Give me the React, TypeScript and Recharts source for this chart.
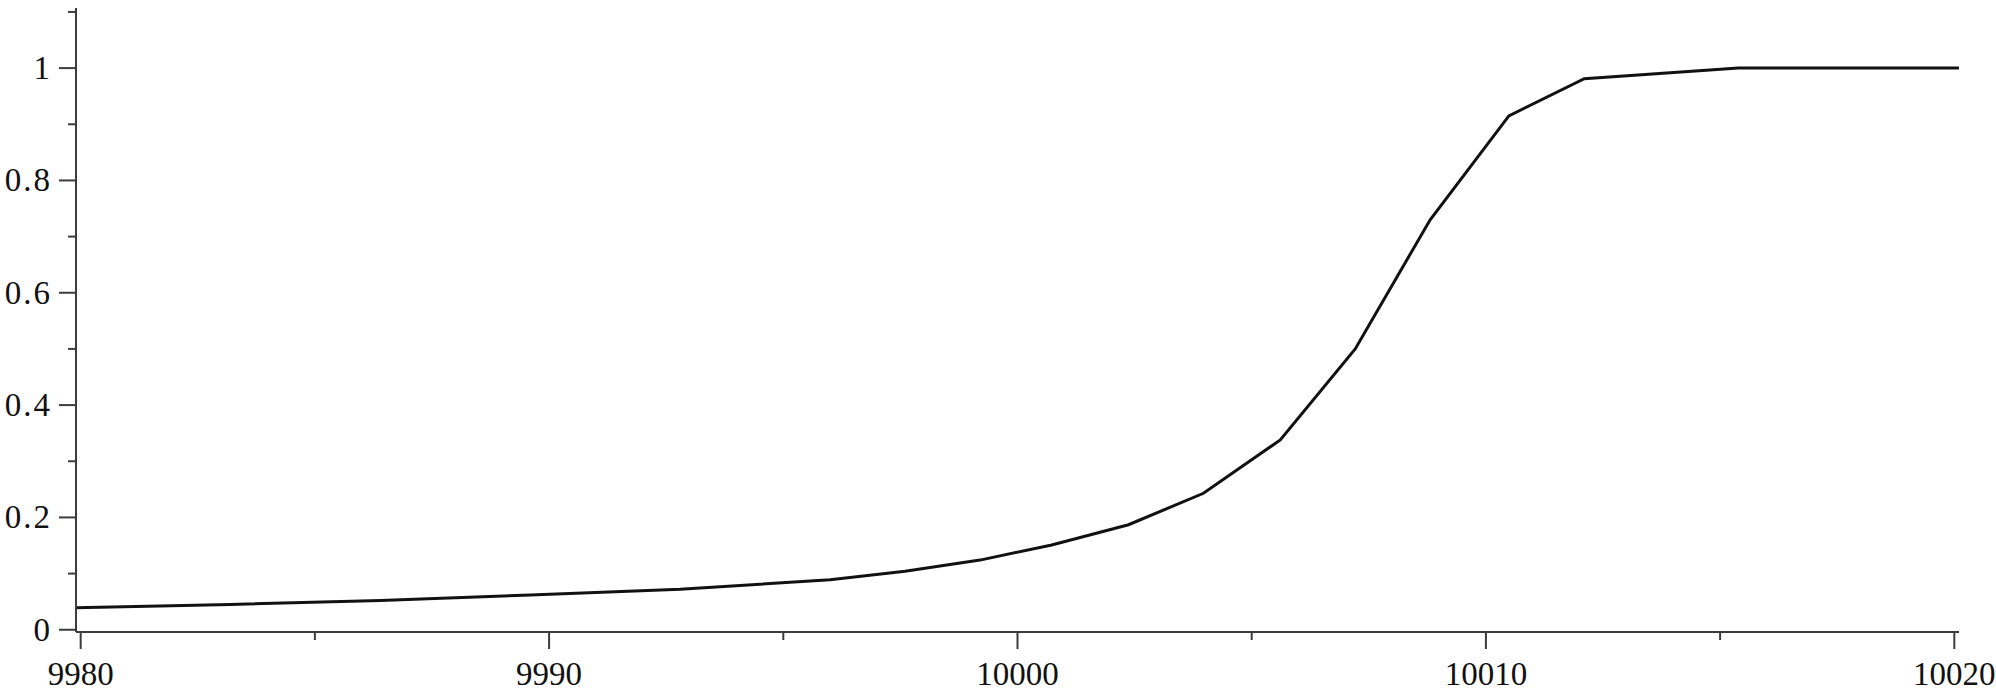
import React from 'react';
import { LineChart, Line, XAxis, YAxis } from 'recharts';

// sample points
const xValues = [9979.9, 9983.2, 9986.4, 9989.6, 9992.8, 9996.0, 9997.6, 9999.2, 10000.73, 10002.37, 10003.97, 10005.61, 10007.21, 10008.81, 10010.49, 10012.1, 10015.39, 10020.1];
const yValues = [0.039, 0.045, 0.052, 0.062, 0.072, 0.089, 0.104, 0.124, 0.151, 0.187, 0.243, 0.338, 0.5, 0.73, 0.915, 0.981, 1.0, 1.0];

const xTicks = [9980, 9985, 9990, 9995, 10000, 10005, 10010, 10015, 10020];
const yTicks = [0, 0.1, 0.2, 0.3, 0.4, 0.5, 0.6, 0.7, 0.8, 0.9, 1.0, 1.1];

const xDomain = [9979.9, 10020.1];
const yDomain = [-0.004, 1.107];

const data = xValues.map((x, i) => ({ x, y: yValues[i] }));

const AXIS_COLOR = '#3c3c3c';
const FONT = '"Liberation Serif", "Times New Roman", serif';

const XTick = ({ x, y, payload }: any) => {
  const major = payload.value % 10 === 0;
  return (
    <g>
      <line x1={x} x2={x} y1={y} y2={y + (major ? 17 : 8)} stroke={AXIS_COLOR} strokeWidth={2} />
      {major && (
        <text x={x} y={y + 53} textAnchor="middle" fontFamily={FONT} fontSize={33} fill="#111">
          {payload.value}
        </text>
      )}
    </g>
  );
};

const YTick = ({ x, y, payload }: any) => {
  const v = payload.value;
  const major = Math.round(v * 10) % 2 === 0;
  const label = v === 0 ? '0' : v === 1 ? '1' : v.toFixed(1);
  return (
    <g>
      <line x1={x - (major ? 17 : 8)} x2={x} y1={y} y2={y} stroke={AXIS_COLOR} strokeWidth={2} />
      {major && (
        <text x={x - 24} y={y + 11} textAnchor="end" fontFamily={FONT} fontSize={33} letterSpacing={2} fill="#111">
          {label}
        </text>
      )}
    </g>
  );
};

const App: React.FC = () => {
  return (
    <div style={{ position: 'absolute', left: 0, top: 0, background: '#fff' }}>
      <LineChart width={1996} height={698} data={data} margin={{ top: 8, right: 37, bottom: 0, left: 0 }}>
        <XAxis
          dataKey="x"
          type="number"
          domain={xDomain}
          ticks={xTicks}
          interval={0}
          height={66}
          tickSize={0}
          tickMargin={0}
          tickLine={false}
          tick={<XTick />}
          axisLine={{ stroke: AXIS_COLOR, strokeWidth: 2 }}
          allowDataOverflow
        />
        <XAxis
          xAxisId="top"
          orientation="top"
          type="number"
          domain={xDomain}
          height={0}
          tick={false}
          tickLine={false}
          axisLine={{ stroke: AXIS_COLOR, strokeWidth: 2 }}
        />
        <YAxis
          type="number"
          domain={yDomain}
          ticks={yTicks}
          interval={0}
          width={76}
          tickSize={0}
          tickMargin={0}
          tickLine={false}
          tick={<YTick />}
          axisLine={{ stroke: AXIS_COLOR, strokeWidth: 2 }}
          allowDataOverflow
        />
        <YAxis
          yAxisId="right"
          orientation="right"
          type="number"
          domain={yDomain}
          width={0}
          tick={false}
          tickLine={false}
          axisLine={{ stroke: AXIS_COLOR, strokeWidth: 2 }}
        />
        <Line
          type="linear"
          dataKey="y"
          stroke="#111"
          strokeWidth={3}
          dot={false}
          isAnimationActive={false}
        />
      </LineChart>
    </div>
  );
};

export default App;
